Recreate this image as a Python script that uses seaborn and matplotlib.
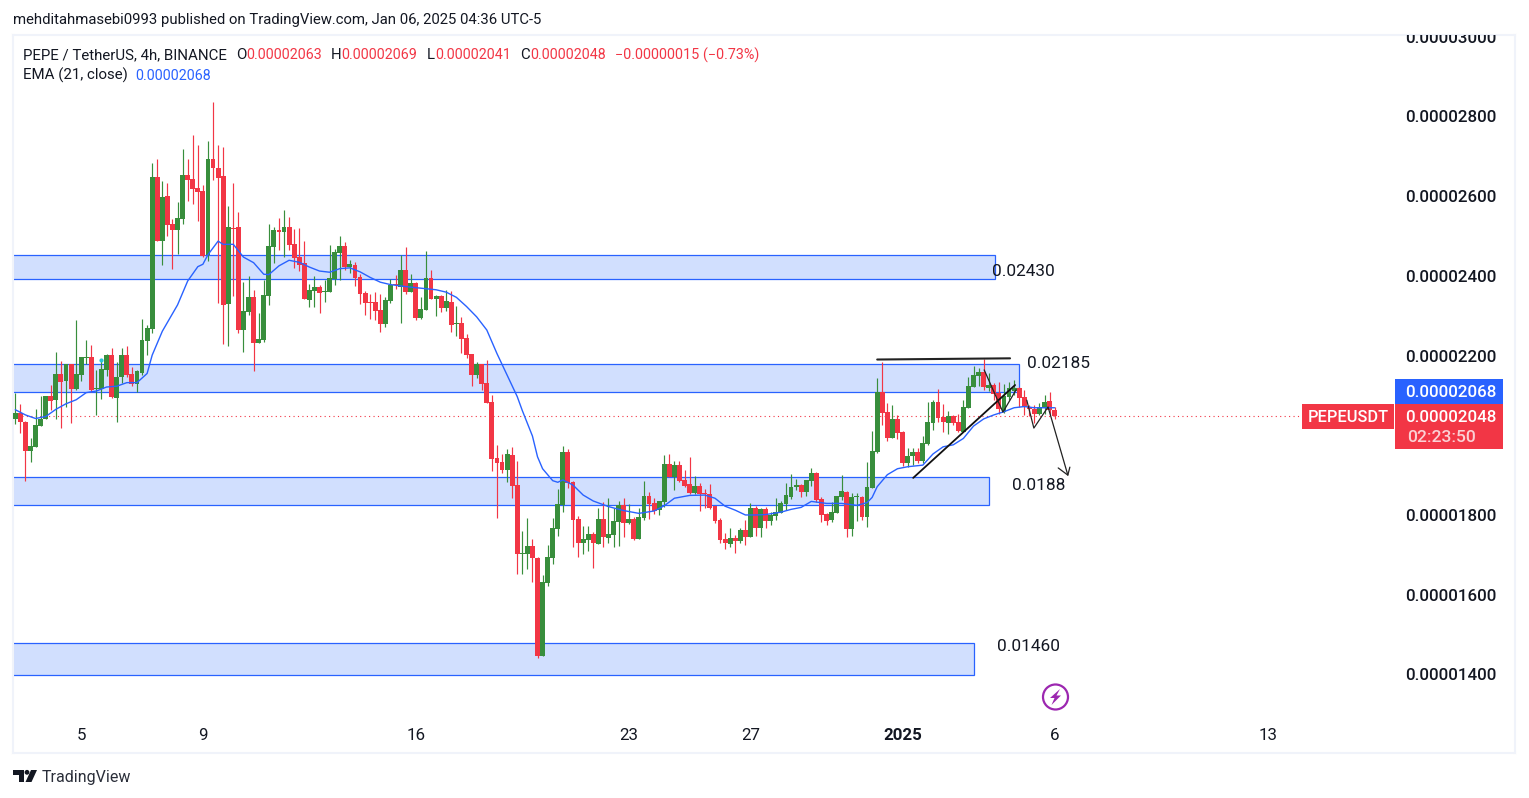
import numpy as np
import pandas as pd
import matplotlib
matplotlib.use('Agg')
import matplotlib.pyplot as plt
from matplotlib.patches import Rectangle, Circle, Polygon
import seaborn as sns

## prices are in units of 1e-8 USDT, one entry per 4h candle
opens = [2039,2054,2032,1960,1970,2023,2040,2097,2087,2152,
         2136,2178,2115,2150,2193,2195,2115,2115,2163,2200,
         2093,2145,2200,2152,2127,2155,2235,2265,2647,2486,
         2599,2529,2514,2541,2652,2642,2619,2612,2451,2692,
         2669,2649,2328,2519,2521,2263,2308,2346,2230,2238,
         2348,2471,2514,2509,2521,2479,2446,2431,2338,2361,
         2371,2358,2358,2391,2456,2474,2421,2426,2396,2356,
         2333,2333,2313,2278,2336,2378,2371,2414,2358,2381,
         2293,2313,2393,2341,2348,2318,2333,2278,2281,2243,
         2203,2150,2178,2130,2082,1942,1932,1912,1949,1874,
         1701,1701,1721,1691,1445,1628,1691,1764,1824,1957,
         1882,1789,1729,1736,1751,1726,1789,1741,1749,1781,
         1824,1779,1789,1739,1791,1847,1829,1811,1831,1927,
         1893,1924,1887,1877,1854,1872,1854,1852,1821,1786,
         1739,1726,1741,1734,1761,1744,1817,1766,1814,1784,
         1796,1804,1826,1844,1869,1874,1857,1884,1904,1839,
         1801,1786,1804,1844,1857,1764,1844,1844,1794,1867,
         1957,2108,2057,1992,2040,2007,1929,1947,1957,1934,
         1977,2030,2082,2045,2030,2047,2032,2007,2067,2120,
         2148,2158,2118,2125,2105,2057,2095,2110,2118,2095,
         2070,2065,2052,2067,2085,2063]
highs = [2106,2077,2035,1991,2066,2097,2097,2125,2209,2185,
         2178,2179,2288,2195,2238,2225,2163,2188,2203,2218,
         2183,2218,2223,2170,2163,2290,2275,2682,2692,2637,
         2632,2541,2584,2717,2692,2752,2727,2627,2737,2835,
         2727,2722,2574,2632,2559,2383,2398,2363,2306,2388,
         2529,2522,2545,2564,2547,2516,2519,2486,2378,2399,
         2376,2388,2476,2466,2499,2484,2439,2434,2404,2361,
         2353,2358,2353,2346,2391,2401,2451,2471,2404,2383,
         2346,2461,2414,2351,2351,2363,2361,2323,2296,2253,
         2203,2183,2178,2188,2100,1974,1952,1964,1969,1935,
         1759,1791,1739,1694,1648,1724,1791,1864,1972,1964,
         1884,1796,1771,1771,1756,1816,1831,1841,1816,1834,
         1841,1827,1795,1816,1884,1857,1841,1834,1949,1952,
         1934,1934,1912,1944,1897,1879,1864,1877,1821,1791,
         1754,1766,1749,1766,1786,1829,1822,1817,1819,1806,
         1842,1834,1879,1902,1889,1877,1887,1917,1907,1844,
         1804,1832,1847,1899,1858,1854,1854,1847,1932,2010,
         2143,2183,2079,2075,2050,2010,1967,1967,1967,1997,
         2082,2087,2115,2077,2060,2049,2052,2087,2145,2173,
         2168,2190,2154,2130,2133,2128,2133,2138,2120,2113,
         2075,2075,2079,2100,2108,2069]
lows = [2026,2004,1885,1933,1970,2023,2040,2062,2041,2018,
        2071,2030,2112,2136,2178,2108,2050,2091,2147,2093,
        2032,2129,2146,2122,2107,2150,2200,2255,2487,2426,
        2499,2416,2454,2529,2587,2579,2536,2446,2436,2639,
        2331,2228,2223,2348,2255,2208,2300,2160,2230,2233,
        2326,2430,2464,2447,2464,2419,2411,2341,2321,2321,
        2306,2333,2358,2376,2388,2414,2405,2373,2328,2301,
        2291,2288,2258,2271,2331,2366,2281,2353,2358,2288,
        2291,2313,2341,2298,2308,2311,2258,2248,2205,2193,
        2123,2143,2112,2080,1909,1791,1904,1882,1842,1651,
        1651,1664,1631,1440,1445,1621,1676,1746,1806,1867,
        1719,1694,1701,1709,1666,1726,1719,1729,1719,1721,
        1744,1776,1736,1739,1786,1789,1801,1799,1819,1893,
        1862,1882,1869,1852,1852,1809,1816,1814,1779,1729,
        1714,1719,1704,1729,1724,1744,1746,1744,1766,1774,
        1786,1804,1811,1839,1862,1844,1847,1872,1832,1781,
        1774,1781,1804,1837,1744,1746,1784,1786,1769,1867,
        1954,2025,1985,1992,1990,1922,1919,1924,1929,1929,
        1975,2012,2032,2007,2002,2025,2007,2007,2067,2120,
        2123,2113,2110,2087,2052,2055,2087,2100,2071,2050,
        2047,2029,2050,2052,2050,2041]
closes = [2054,2033,1960,1972,2025,2041,2097,2085,2152,2132,
          2178,2116,2152,2195,2195,2112,2117,2165,2200,2096,
          2145,2200,2150,2127,2160,2238,2268,2647,2487,2597,
          2526,2514,2544,2652,2639,2617,2609,2449,2692,2669,
          2644,2326,2521,2516,2263,2311,2346,2230,2240,2351,
          2474,2514,2509,2521,2476,2444,2426,2341,2363,2371,
          2356,2361,2393,2459,2474,2421,2429,2393,2353,2331,
          2331,2311,2278,2338,2376,2375,2414,2358,2381,2293,
          2316,2393,2341,2348,2318,2336,2276,2281,2240,2200,
          2150,2178,2128,2080,1939,1929,1912,1952,1872,1701,
          1704,1721,1691,1445,1631,1694,1766,1827,1957,1879,
          1786,1729,1739,1751,1729,1789,1744,1751,1784,1824,
          1779,1789,1739,1794,1847,1827,1809,1834,1927,1893,
          1924,1884,1872,1854,1872,1852,1852,1816,1784,1736,
          1729,1741,1734,1761,1744,1817,1766,1814,1784,1799,
          1806,1829,1849,1869,1874,1857,1887,1904,1837,1799,
          1784,1806,1847,1859,1764,1844,1847,1794,1869,1960,
          2108,2055,1992,2040,2005,1929,1947,1957,1934,1980,
          2032,2082,2042,2032,2047,2030,2010,2070,2123,2150,
          2158,2120,2125,2103,2065,2098,2118,2118,2092,2070,
          2065,2052,2070,2082,2062,2048]

## EMA(21) at these candles
ema_idx = [0,2,4,6,8,10,12,14,16,18,20,22,24,26,27,29,32,34,36,37,38,40,41,43,45,47,49,50,
           52,54,56,58,60,62,64,66,68,70,72,74,77,80,83,85,87,89,91,93,95,97,99,
           100,101,102,103,104,106,107,108,110,112,114,117,120,123,126,128,130,133,136,138,
           140,142,143,144,146,148,151,153,155,157,160,163,166,168,169,170,172,174,176,179,
           181,183,185,187,189,191,193,195,197,199,201,203,205]
ema_vals = [2063,2050,2041,2046,2064,2078,2088,2106,2110,2120,2122,2131,2131,2154,2200,2260,
            2326,2386,2422,2428,2452,2486,2478,2478,2446,2432,2403,2402,
            2424,2438,2433,2421,2411,2408,2417,2419,2409,2395,2383,2377,2372,2368,2364,2358,
            2345,2322,2296,2263,2204,2150,2096,
            2061,2029,1997,1945,1915,1885,1881,1887,1874,1849,1834,1820,1810,1803,1809,1822,
            1841,1848,1849,1841,1821,1811,1805,1799,1799,1800,1806,1813,1818,1833,1828,1828,
            1823,1830,1843,1870,1900,1915,1920,1924,1952,1970,1975,1991,2022,2040,2050,2058,
            2068,2071,2068,2068,2068]

y_ticks = [1400,1600,1800,2200,2400,2600,2800,3000]
date_pos = [13,37,79,121,145,175,205,247]
date_labels = ['5','9','16','23','27','2025','6','13']

## zones: left side runs off the chart edge, (right idx, top price, bottom price)
zone_right = [193.2,198.0,192.0,189.1]
zone_top = [2451,2178,1894,1478]
zone_bot = [2391,2107,1824,1397]

GREEN = '#388e3c'
RED = '#f23645'
BLUE = '#2962ff'
DARK = '#131722'
FONT = 'Roboto'

sns.set_style('white')
plt.rcParams['font.family'] = FONT

df = pd.DataFrame({'o': opens, 'h': highs, 'l': lows, 'c': closes})
df['idx'] = np.arange(len(df))
df['col'] = np.where(df.c >= df.o, GREEN, RED)

fig = plt.figure(figsize=(15.29, 7.98), dpi=100)
W, H = 1529, 798
x0, x1, y0, y1 = 13, 1515, 35, 753
ax = fig.add_axes([x0/W, 1-y1/H, (x1-x0)/W, (y1-y0)/H])

## same scale as the chart: 5.07 px per candle, 2.509 units per px
ax.set_xlim((x0-15.3)/5.07, (x1-15.3)/5.07)
ax.set_ylim(2800-2.509*(y1-116), 2800+2.509*(116-y0))

for r, t, b in zip(zone_right, zone_top, zone_bot):
    ax.add_patch(Rectangle((-5, b), r+5, t-b, fc='#d1dffe', ec=BLUE, lw=0.9, zorder=1))

ax.axhline(closes[-1], color=RED, lw=0.8, ls=(0, (1, 3)), xmax=(1302-x0)/(x1-x0), zorder=1.5)

## candles
ax.vlines(df.idx, df.l, df.h, colors=df.col, lw=0.85, zorder=2)
ax.bar(df.idx, (df.c-df.o).abs().clip(lower=2), bottom=df[['o', 'c']].min(axis=1),
       width=0.96, color=df.col, linewidth=0, zorder=3)

sns.lineplot(x=ema_idx, y=ema_vals, ax=ax, color=BLUE, lw=1.0, estimator=None, zorder=4)
ax.plot([17], [2188], marker='o', ms=2, color='#26c6da', zorder=4)

## hand drawn lines on the chart
ax.plot([170, 196.2], [2189, 2192], color='#222222', lw=1.5, zorder=5)
ax.plot([177.1, 197.2], [1892, 2125], color='#111111', lw=1.3, zorder=5)
ax.plot([191.1, 194.8, 197.4], [2163, 2057, 2113], color='#222222', lw=0.9, zorder=5)
ax.plot([199.5, 200.9, 203.7, 207.6], [2087, 2017, 2070, 1899], color='#222222', lw=0.9, zorder=5)
ax.plot([205.7, 207.6, 208.0], [1917, 1899, 1919], color='#222222', lw=0.9, zorder=5)

for px, p, s in [(192.6, 2409, '0.02430'), (199.6, 2180, '0.02185'), (196.6, 1873, '0.0188'), (193.6, 1469, '0.01460')]:
    ax.text(px, p, s, fontsize=12.4, color=DARK, va='center', ha='left', zorder=6)

## price scale inside the frame, the top one gets cut by the frame
for t in y_ticks:
    lab = ax.annotate(f'{t*1e-8:.8f}', (((1497-15.3)/5.07), t), xytext=(0, -1.4), textcoords='offset points',
                      fontsize=12.2, color=DARK, ha='right', va='center', annotation_clip=False,
                      fontweight='medium', zorder=6)
    lab.set_clip_on(True)
    lab.set_clip_path(ax.patch)

ax.set_xticks(date_pos)
ax.set_xticklabels(date_labels, fontsize=12.2, color=DARK)
ax.get_xticklabels()[5].set_fontweight('bold')
ax.tick_params(axis='x', direction='in', length=0, pad=-18)
ax.set_yticks([])
ax.set_xlabel('')
ax.set_ylabel('')
for s in ax.spines.values():
    s.set_color('#f0f3fa')
    s.set_linewidth(1.5)

## everything around the chart, overlay in figure pixels
ov = fig.add_axes([0, 0, 1, 1])
ov.set_xlim(0, W)
ov.set_ylim(H, 0)
ov.axis('off')
ov.patch.set_alpha(0)

ov.text(13, 20, 'mehditahmasebi0993 published on TradingView.com, Jan 06, 2025 04:36 UTC-5',
        fontsize=10.75, color=DARK, va='center')
ov.text(23, 55, 'PEPE / TetherUS, 4h, BINANCE', fontsize=10.8, color=DARK, va='center')
for x, lab, val in [(236, 'O', '0.00002063'), (331, 'H', '0.00002069'), (427, 'L', '0.00002041'), (520, 'C', '0.00002048')]:
    ov.text(x, 55, lab, fontsize=10.8, color=DARK, va='center')
    ov.text(x+(10 if lab != 'L' else 8), 55, val, fontsize=10.3, color=RED, va='center')
ov.text(615, 55, '\u22120.00000015 (\u22120.73%)', fontsize=10.4, color=RED, va='center')
ov.text(23, 75.5, 'EMA (21, close)', fontsize=10.8, color=DARK, va='center')
ov.text(135, 75.5, '0.00002068', fontsize=10.3, color=BLUE, va='center')

## price tags
ov.add_patch(Rectangle((1395, 379), 108, 24.5, fc=BLUE, ec='none'))
ov.add_patch(Rectangle((1395, 404), 108, 45, fc=RED, ec='none'))
ov.add_patch(Rectangle((1302, 404), 92, 25, fc=RED, ec='none'))
ov.text(1497, 392.5, '0.00002068', fontsize=12.2, color='white', ha='right', va='center', fontweight='medium')
ov.text(1497, 417, '0.00002048', fontsize=12.2, color='white', ha='right', va='center', fontweight='medium')
ov.text(1476, 437.5, '02:23:50', fontsize=12.6, color='#fbd0d4', ha='right', va='center', fontweight='medium')
ov.text(1348.5, 417, 'PEPEUSDT', fontsize=11.8, color='white', ha='center', va='center', fontweight='medium')

## lightning badge
ov.add_patch(Circle((1055.5, 697), 12.5, fc='white', ec='#9c27b0', lw=1.6))
ov.add_patch(Polygon([(1060, 689), (1050, 698), (1054.5, 698), (1051.5, 705), (1061, 695.5), (1056.5, 695.5)],
                     fc='#9c27b0', ec='none'))

## logo
ov.add_patch(Polygon([(13, 770), (24, 770), (24, 782), (19, 782), (19, 775), (13, 775)], fc=DARK, ec='none'))
ov.add_patch(Circle((27, 772.3), 2.4, fc=DARK, ec='none'))
ov.add_patch(Polygon([(31, 770), (37, 770), (31.5, 782), (25.5, 782)], fc=DARK, ec='none'))
ov.text(42, 777.5, 'TradingView', fontsize=11.5, color='#2a2e39', va='center')

fig.savefig('out.png', dpi=100, facecolor='white')
